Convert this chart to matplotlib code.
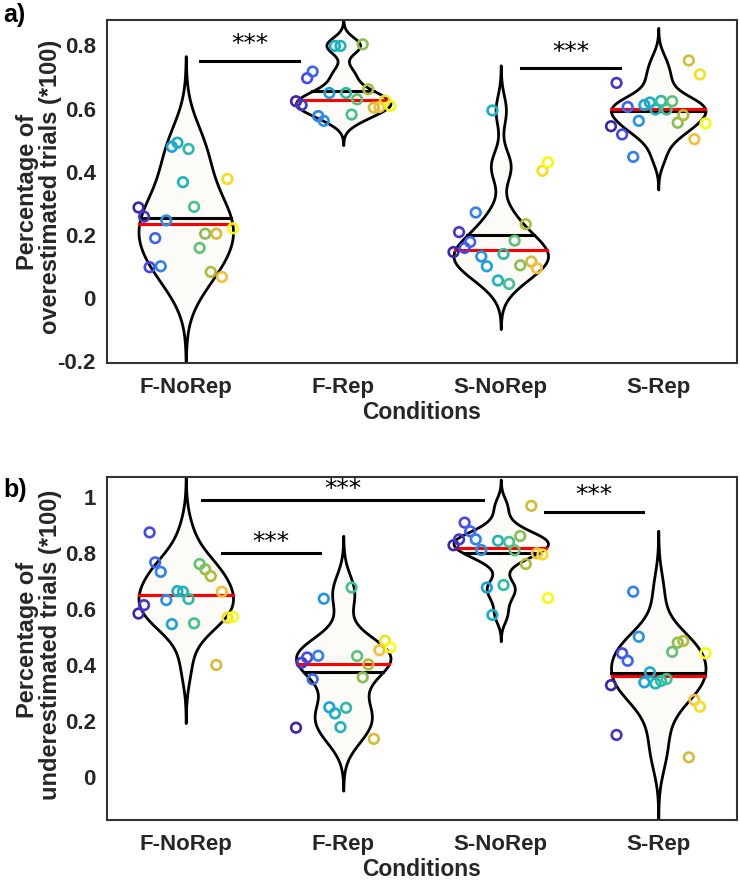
import numpy as np
import matplotlib
matplotlib.use('Agg')
import matplotlib.pyplot as plt
from matplotlib.colors import LinearSegmentedColormap

plt.rcParams['font.family'] = ['Liberation Sans', 'DejaVu Sans']

conditions = ['F-NoRep', 'F-Rep', 'S-NoRep', 'S-Rep']

# per-subject values (18 subjects, subject order = colour order)
over_fnorep = [0.287, 0.258, 0.098, 0.190, 0.101, 0.246, 0.479, 0.492, 0.367,
               0.472, 0.289, 0.159, 0.204, 0.083, 0.204, 0.067, 0.377, 0.221]
over_frep = [0.623, 0.611, 0.696, 0.717, 0.576, 0.561, 0.649, 0.798, 0.798,
             0.649, 0.581, 0.629, 0.803, 0.661, 0.603, 0.605, 0.625, 0.608]
over_snorep = [0.146, 0.209, 0.159, 0.178, 0.271, 0.132, 0.101, 0.594, 0.056,
               0.140, 0.045, 0.182, 0.104, 0.234, 0.116, 0.095, 0.403, 0.430]
over_srep = [0.544, 0.681, 0.518, 0.605, 0.447, 0.561, 0.611, 0.619, 0.597,
             0.624, 0.597, 0.623, 0.555, 0.579, 0.752, 0.503, 0.708, 0.553]

under_fnorep = [0.583, 0.613, 0.873, 0.766, 0.732, 0.631, 0.545, 0.663, 0.661,
                0.635, 0.548, 0.760, 0.741, 0.717, 0.399, 0.661, 0.568, 0.571]
under_frep = [0.175, 0.407, 0.426, 0.348, 0.432, 0.636, 0.248, 0.226, 0.177,
              0.246, 0.676, 0.431, 0.355, 0.401, 0.135, 0.452, 0.486, 0.462]
under_snorep = [0.827, 0.848, 0.908, 0.877, 0.848, 0.810, 0.676, 0.578, 0.843,
                0.685, 0.839, 0.809, 0.860, 0.760, 0.968, 0.798, 0.794, 0.638]
under_srep = [0.327, 0.149, 0.441, 0.414, 0.661, 0.500, 0.337, 0.373, 0.333,
              0.342, 0.349, 0.446, 0.479, 0.485, 0.069, 0.274, 0.250, 0.441]

yticks_a = [-0.2, 0, 0.2, 0.4, 0.6, 0.8]
ytick_labels_a = ['-0.2', '0', '0.2', '0.4', '0.6', '0.8']
yticks_b = [0, 0.2, 0.4, 0.6, 0.8, 1.0]
ytick_labels_b = ['0', '0.2', '0.4', '0.6', '0.8', '1']

# parula-like colormap
parula = LinearSegmentedColormap.from_list('parula', [
    (0.00, '#3e26a8'), (0.12, '#4649f0'), (0.25, '#2c87f0'),
    (0.37, '#15a8d8'), (0.50, '#1ebaaf'), (0.62, '#4cc28a'),
    (0.75, '#a6bd35'), (0.87, '#f5b83a'), (1.00, '#f9fb0e')])


def violins(ax, groups):
    n = len(groups[0])
    offs = np.linspace(-0.3, 0.3, n)
    cols = parula(np.linspace(0, 1, n))
    for i, vals in enumerate(groups):
        pos = i + 1
        y = np.asarray(vals)
        med = np.median(y)
        mad = np.median(np.abs(y - med))
        bw = mad / 0.6745 * (4 / (3 * len(y))) ** 0.2
        u = np.linspace(y.min() - 3 * bw, y.max() + 3 * bw, 100)
        f = np.exp(-0.5 * ((u[:, None] - y[None, :]) / bw) ** 2).sum(axis=1)
        f = f / f.max() * 0.3
        ax.fill_betweenx(u, pos - f, pos + f, facecolor='#fcfbf7',
                         edgecolor='black', lw=2, zorder=1)
        mn = y.mean()
        fm = np.interp(mn, u, f)
        ax.plot([pos - fm, pos + fm], [mn, mn], color='black', lw=2.2, zorder=2)
        fd = np.interp(med, u, f)
        ax.plot([pos - fd, pos + fd], [med, med], color='red', lw=2.2, zorder=3)
        ax.scatter(pos + offs, y, s=48, facecolors='none', edgecolors=cols,
                   linewidths=1.9, zorder=4)


def style(ax, ylim, ticks, labels):
    ax.set_xlim(0.5, 4.5)
    ax.set_ylim(*ylim)
    ax.set_xticks([1, 2, 3, 4])
    ax.set_xticklabels(conditions, fontsize=16, fontweight='bold', color='#262626')
    ax.set_yticks(ticks)
    ax.set_yticklabels(labels, fontsize=16, fontweight='bold', color='#262626')
    ax.tick_params(axis='y', length=0, pad=8)
    ax.tick_params(axis='x', length=0, pad=10)
    for s in ax.spines.values():
        s.set_color('#333333')
        s.set_linewidth(1.5)
    ax.set_xlabel('Conditions', fontsize=16.5, fontweight='bold', color='#262626', labelpad=2)


def sig(ax, x0, x1, y, ty):
    ax.plot([x0, x1], [y, y], color='black', lw=2.2)
    ax.text((x0 + x1) / 2, ty, '***', ha='center', va='center', fontsize=18,
            family='DejaVu Sans')


fig = plt.figure(figsize=(7.4, 8.81), dpi=100)
W, H = 740, 881
ax1 = fig.add_axes([107 / W, 1 - 363 / H, 630 / W, 343 / H])
ax2 = fig.add_axes([107 / W, 1 - 820 / H, 630 / W, 343 / H])

violins(ax1, [over_fnorep, over_frep, over_snorep, over_srep])
style(ax1, (-0.205, 0.88), yticks_a, ytick_labels_a)
sig(ax1, 1.09, 1.72, 0.75, 0.803)
sig(ax1, 3.13, 3.76, 0.728, 0.779)

violins(ax2, [under_fnorep, under_frep, under_snorep, under_srep])
style(ax2, (-0.155, 1.071), yticks_b, ytick_labels_b)
sig(ax2, 1.10, 2.89, 0.988, 1.027)
sig(ax2, 1.23, 1.85, 0.798, 0.839)
sig(ax2, 3.28, 3.90, 0.945, 1.006)

fig.text(28 / W, 1 - 192 / H, 'Percentage of', rotation=90, ha='center', va='center',
         fontsize=17, fontweight='bold', color='#262626')
fig.text(51 / W, 1 - 187 / H, 'overestimated trials (*100)', rotation=90, ha='center',
         va='center', fontsize=17, fontweight='bold', color='#262626')
fig.text(28 / W, 1 - 640 / H, 'Percentage of', rotation=90, ha='center', va='center',
         fontsize=17, fontweight='bold', color='#262626')
fig.text(51 / W, 1 - 645 / H, 'underestimated trials (*100)', rotation=90, ha='center',
         va='center', fontsize=17, fontweight='bold', color='#262626')

fig.text(3 / W, 1 - 15 / H, 'a)', ha='left', va='center', fontsize=18, fontweight='bold')
fig.text(3 / W, 1 - 490 / H, 'b)', ha='left', va='center', fontsize=18, fontweight='bold')

fig.savefig('out.png', dpi=100)
